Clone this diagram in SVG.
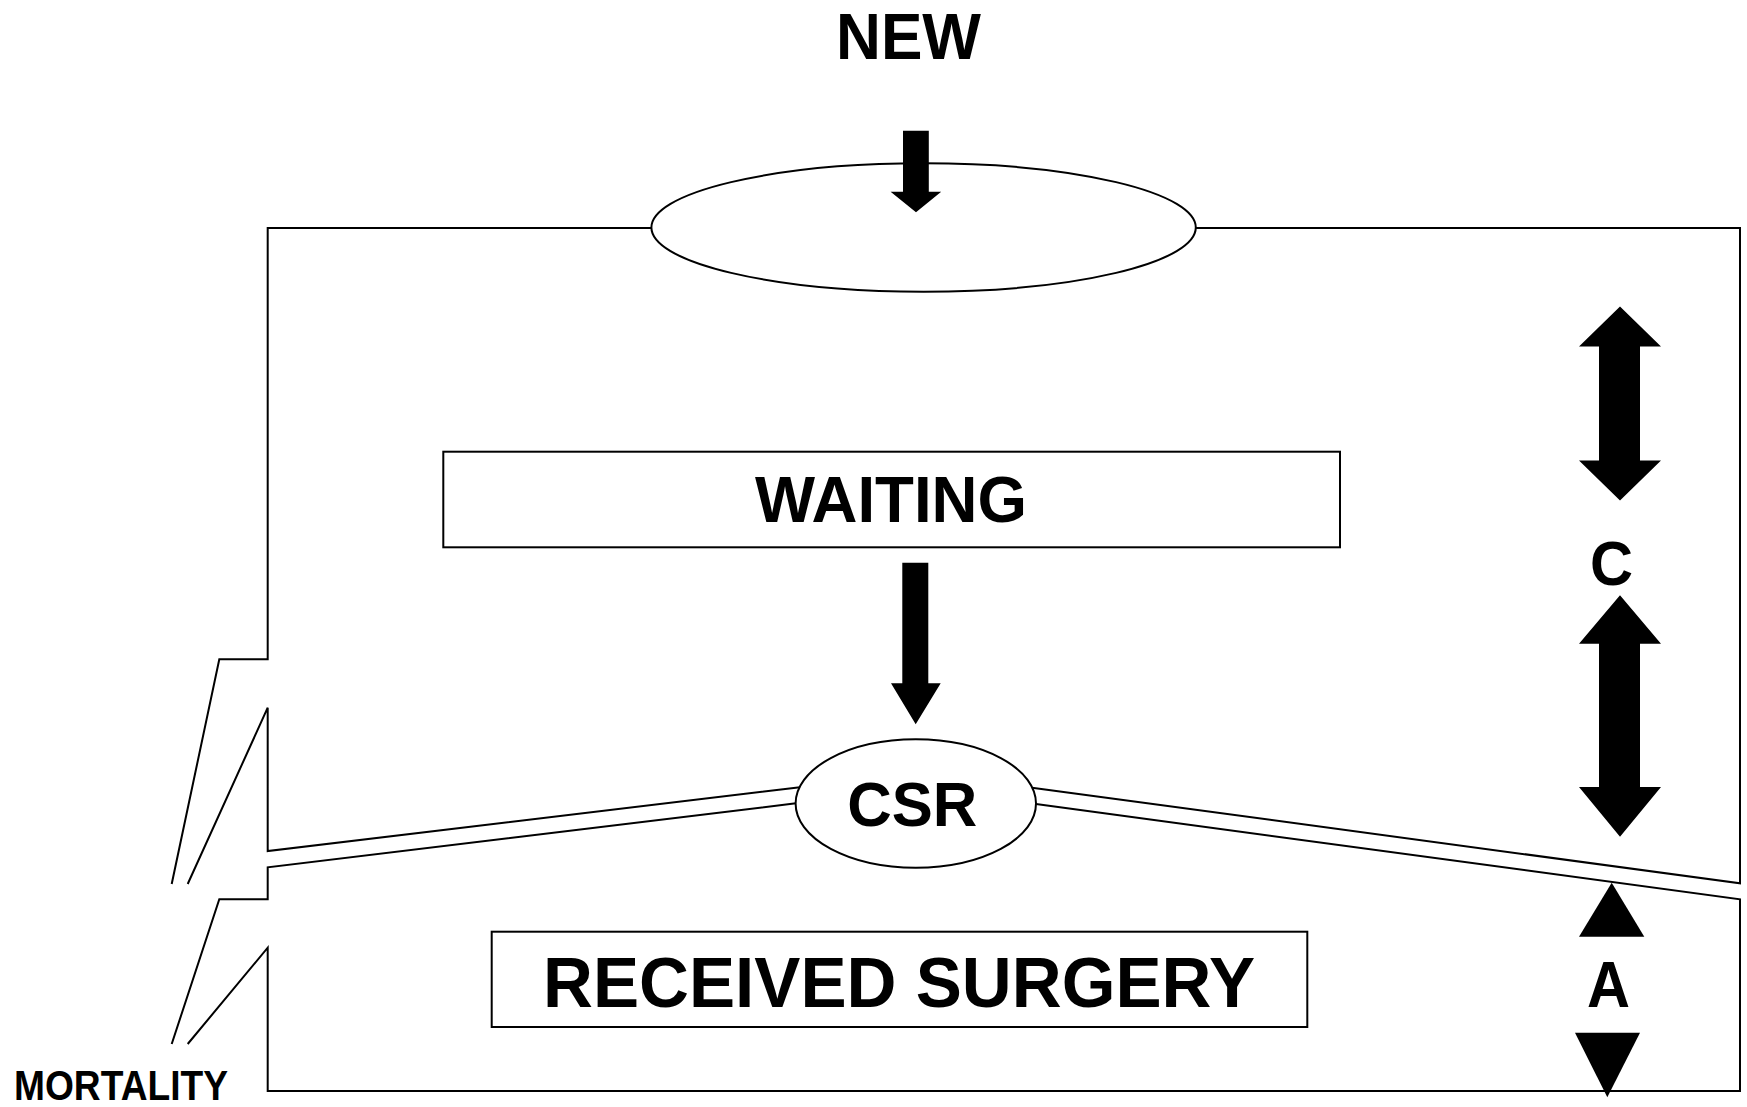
<svg xmlns="http://www.w3.org/2000/svg" width="1747" height="1107" viewBox="0 0 1747 1107">
<style>
.ln{fill:none;stroke:#000;stroke-width:2;stroke-linejoin:miter}
.shape{fill:#fff;stroke:#000;stroke-width:2}
.ar{fill:#000;stroke:none}
.t{font-family:"Liberation Sans",Arial,Helvetica,sans-serif;font-weight:bold;fill:#000}
</style>
<rect width="1747" height="1107" fill="#fff"/>
<g id="connectors">
<path class="ln" d="M651.4,228 H267.7 V659.3 H219.3 L171.7,884"/>
<path class="ln" d="M187.7,884 L267.7,707.7 V851 L800,787.3"/>
<path class="ln" d="M1195.8,228 H1740 V883.3 L1032,787.7"/>
<path class="ln" d="M796,803.3 L267.7,867.3 V899.3 H219.3 L171.7,1044"/>
<path class="ln" d="M187.7,1044 L267.7,947.7 V1091 H1740 V899.3 L1036,804"/>
<path class="ar" d="M903,130.7 H928.8 V191.7 H941.2 L916,212.3 L890.6,191.7 H903 Z"/>
<path class="ar" d="M902.3,562.7 H928.3 V683.3 H940.7 L915.7,724.3 L891,683.3 H902.3 Z"/>
<path class="ar" d="M1620,306.6 L1661,346.6 H1640 V460.5 H1661 L1620,500.5 L1579,460.5 H1599 V346.6 H1579 Z"/>
<path class="ar" d="M1620,595.2 L1661,643.7 H1640 V786.9 H1661 L1620,836.8 L1579,786.9 H1599 V643.7 H1579 Z"/>
<path class="ar" d="M1611.7,882.7 L1644.3,936.7 H1579 Z"/>
<path class="ar" d="M1575,1032.7 H1640 L1607.3,1097.3 Z"/>
</g>
<g id="new">
<text class="t" x="836" y="58.5" font-size="65" textLength="145" lengthAdjust="spacingAndGlyphs">NEW</text>
</g>
<g id="entry">
<ellipse cx="923.6" cy="227.5" rx="272.2" ry="64.2" fill="none" stroke="#000" stroke-width="2"/>
</g>
<g id="waiting">
<rect class="shape" x="443.3" y="451.7" width="896.7" height="95.6"/>
<text class="t" x="755" y="521.7" font-size="65" textLength="272" lengthAdjust="spacingAndGlyphs">WAITING</text>
</g>
<g id="csr">
<ellipse class="shape" cx="915.8" cy="803.5" rx="120.2" ry="64.2"/>
<text class="t" x="847.3" y="826" font-size="63" textLength="130" lengthAdjust="spacingAndGlyphs">CSR</text>
</g>
<g id="received">
<rect class="shape" x="491.7" y="931.7" width="815.6" height="95.3"/>
<text class="t" x="543" y="1006.7" font-size="70" textLength="712" lengthAdjust="spacingAndGlyphs">RECEIVED SURGERY</text>
</g>
<g id="label-c">
<text class="t" x="1590" y="585" font-size="63" textLength="43" lengthAdjust="spacingAndGlyphs">C</text>
</g>
<g id="label-a">
<text class="t" x="1587" y="1007" font-size="65" textLength="43" lengthAdjust="spacingAndGlyphs">A</text>
</g>
<g id="mortality">
<text class="t" x="14" y="1100" font-size="42" textLength="214" lengthAdjust="spacingAndGlyphs">MORTALITY</text>
</g>
</svg>
